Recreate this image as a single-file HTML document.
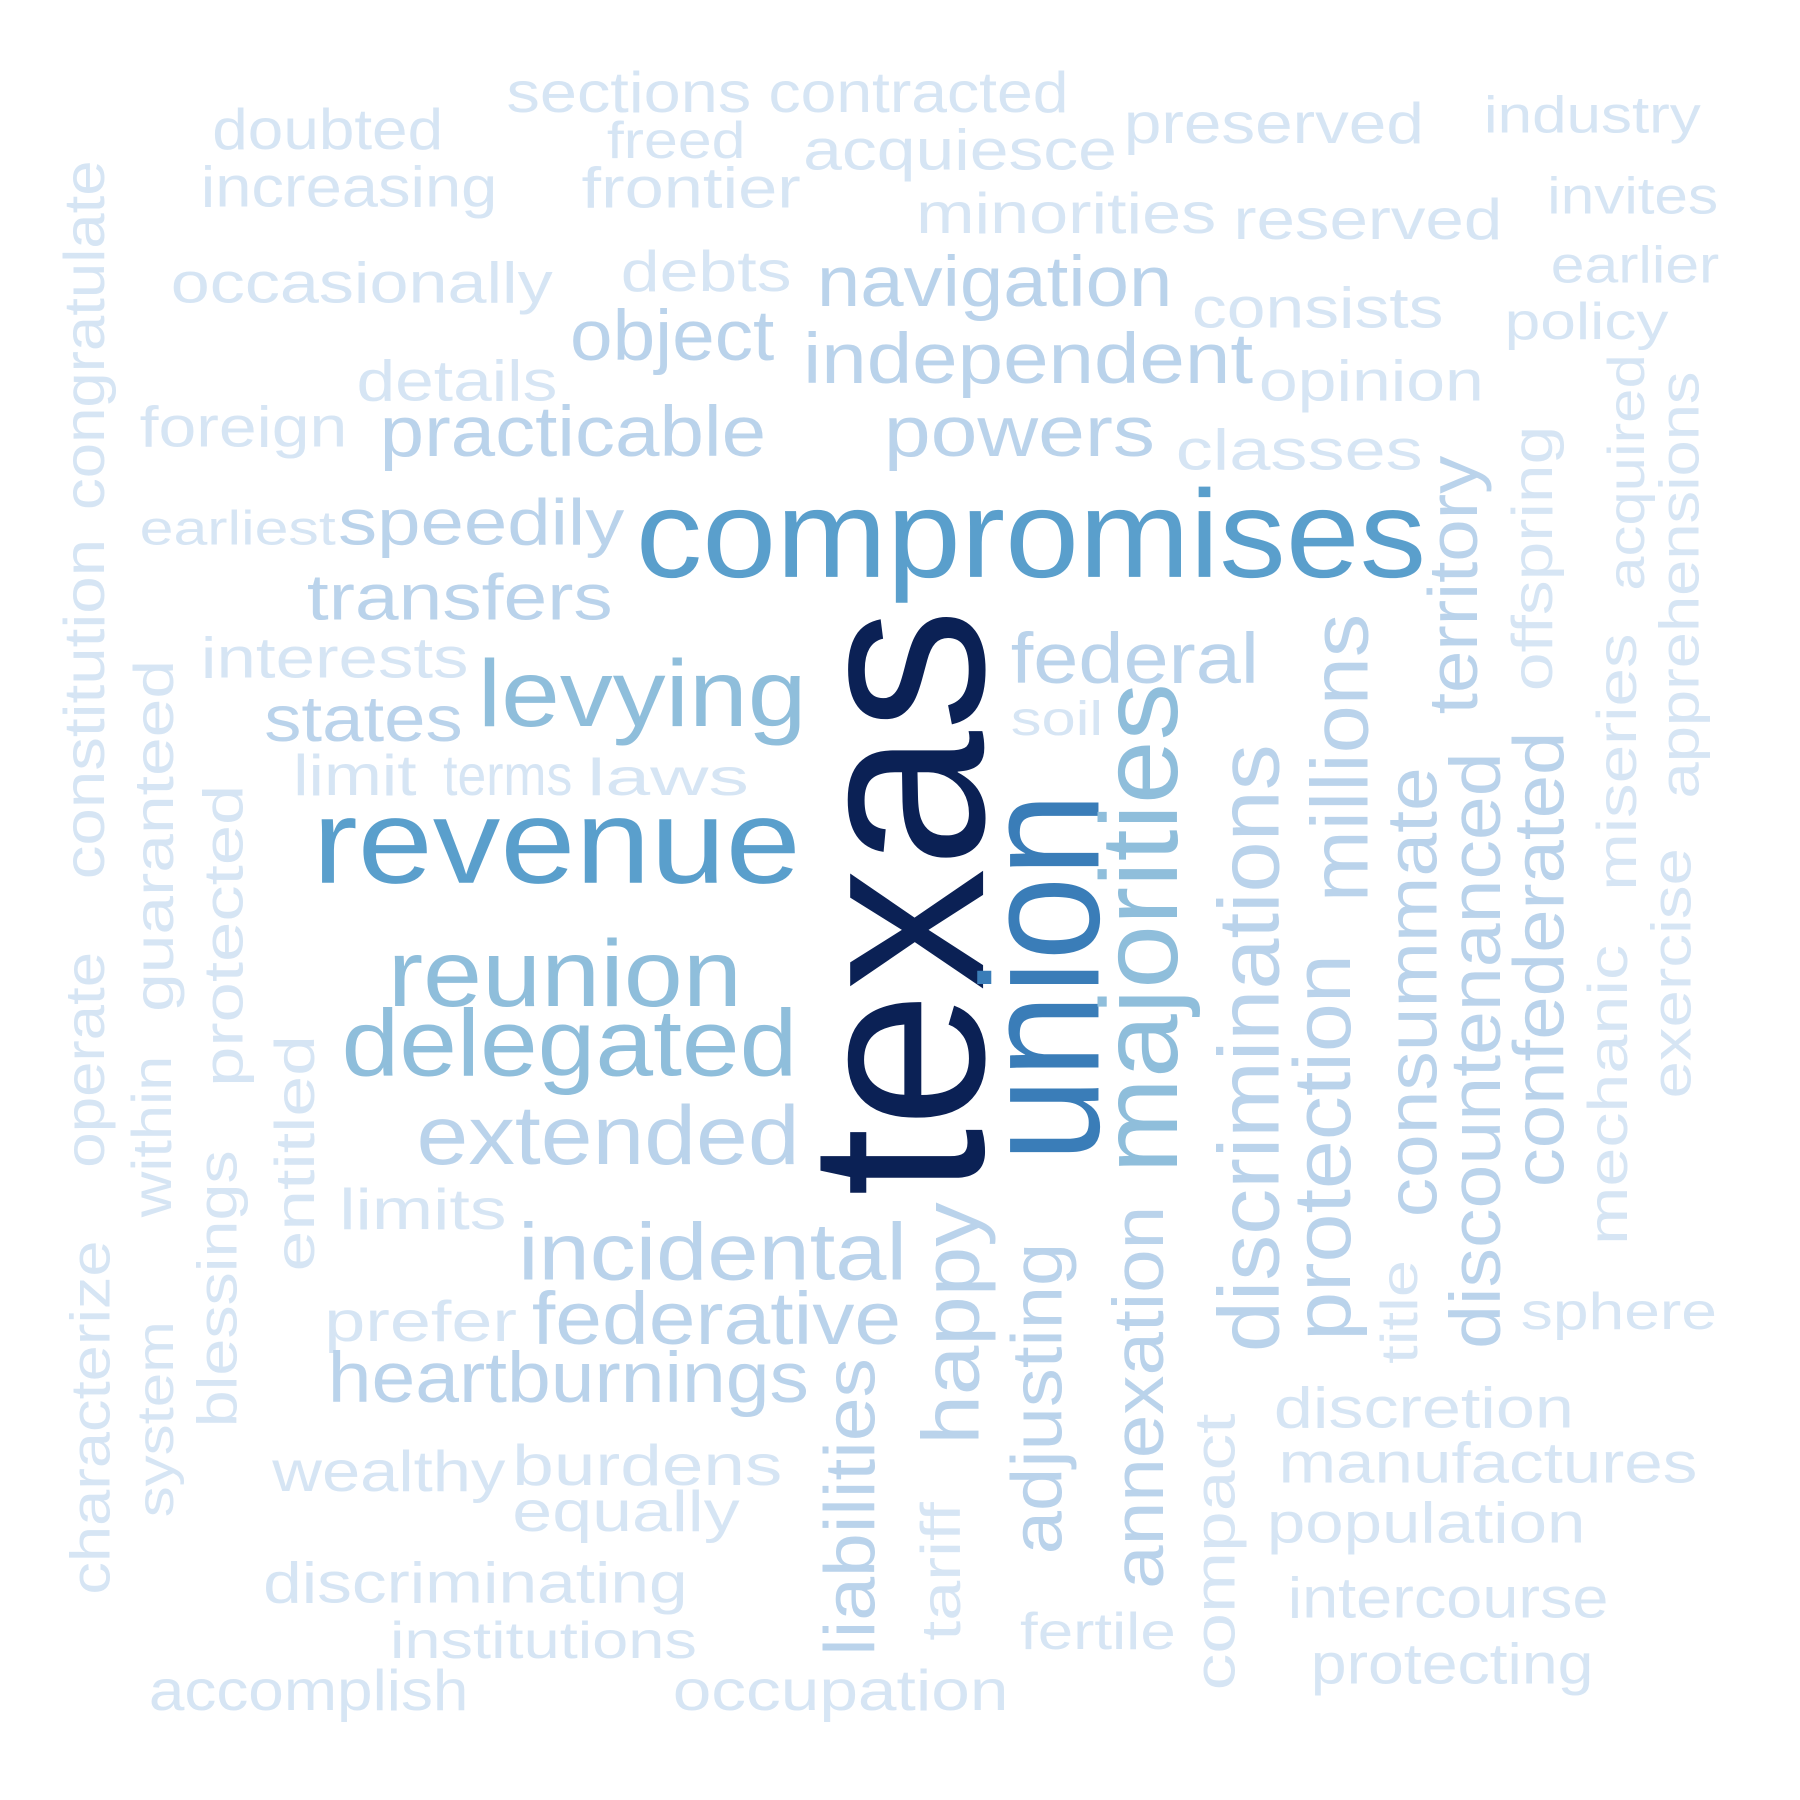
<!DOCTYPE html>
<html><head><meta charset="utf-8"><style>
html,body{margin:0;padding:0;background:#fff;}
svg{display:block;}
text{font-family:"Liberation Sans",Arial,sans-serif;}
</style></head><body>
<svg id="cloud" width="1800" height="1800" viewBox="0 0 1560 1560" xmlns="http://www.w3.org/2000/svg">
<rect width="1560" height="1560" fill="#fff"/>
<g id="words" transform="translate(-4,-3)"></g>
</svg>
<script>
const words = ["sections","contracted","doubted","freed","acquiesce","preserved","industry","increasing","frontier","minorities","reserved","invites","occasionally","debts","earlier","consists","policy","details","opinion","foreign","classes","earliest","interests","soil","limit","terms","laws","limits","prefer","sphere","discretion","wealthy","burdens","manufactures","equally","population","discriminating","intercourse","fertile","institutions","protecting","accomplish","occupation",
"navigation","object","independent","practicable","powers","speedily","transfers","federal","states","extended","incidental","federative","heartburnings",
"levying","reunion","delegated","compromises","revenue",
"texas","union","majorities","discriminations","millions","protection","consummate","territory","discountenanced","confederated","offspring","acquired","apprehensions","miseries","exercise","mechanic","title","happy","adjusting","annexation","liabilities","tariff","compact","constitution","congratulate","operate","guaranteed","within","protected","entitled","blessings","characterize","system"];
const weights = [1,1,1,1,1,1,1,1,1,1,1,1,1,1,1,1,1,1,1,1,1,1,1,1,1,1,1,1,1,1,1,1,1,1,1,1,1,1,1,1,1,1,1,
2,2,2,2,2,2,2,2,2,2,2,2,2,
3,3,3,4,4,
6,5,3,2,2,2,2,2,2,2,1,1,1,1,1,1,1,2,2,2,2,1,1,1,1,1,1,1,1,1,1,1,1];
const layout = [
[443,100,50,212,0],[670,100,50,260,0],[188,132,50,200,0],[530,140,45,120,0],[700,150,50,272,0],[978,127,50,260,0],[1290,118,45,188,0],[178,182,50,257,0],[508,183,50,190,0],[798,205,50,260,0],[1073,210,50,233,0],[1345,188,45,148,0],[152,265,50,331,0],[542,255,50,148,0],[1348,248,45,146,0],[1037,287,50,218,0],[1308,297,45,142,0],[313,350,50,174,0],[1095,350,50,195,0],[125,390,50,180,0],[1023,410,50,214,0],[125,475,42,170,0],[178,590,50,232,0],[880,640,42,80,0],[258,692,50,107,0],[388,692,50,112,0],[513,692,45,140,0],[298,1068,50,145,0],[285,1165,50,167,0],[1322,1155,45,170,0],[1108,1240,50,260,0],[240,1295,50,202,0],[448,1290,50,234,0],[1112,1288,50,363,0],[448,1330,50,197,0],[1102,1340,50,276,0],[232,1392,50,368,0],[1120,1405,50,278,0],[888,1432,45,135,0],[342,1440,45,266,0],[1140,1462,50,245,0],[133,1485,50,277,0],[587,1485,50,291,0],
[712,268,62,308,0],[498,315,62,177,0],[700,335,62,390,0],[333,398,62,335,0],[770,398,62,235,0],[297,475,56,248,0],[270,540,56,265,0],[880,595,62,215,0],[233,645,56,172,0],[365,1012,72,332,0],[453,1112,70,337,0],[465,1168,64,320,0],[288,1218,62,417,0],
[418,632,82,285,0],[340,875,82,307,0],[300,935,82,395,0],[555,503,108,685,0],[275,768,104,423,0],
[862,1040,218,510,1],[962,1010,145,320,1],[1030,1020,95,425,1],[1118,1175,75,527,1],[1195,785,70,250,1],[1180,1165,70,335,1],[1255,1058,62,390,1],[1290,622,60,224,1],[1310,1172,62,517,1],[1365,1032,62,395,1],[1355,602,50,230,1],[1435,515,45,205,1],[1482,695,48,370,1],[1428,775,48,223,1],[1475,955,48,217,1],[1420,1082,48,260,1],[1238,1185,45,90,1],[858,1255,70,210,1],[930,1350,62,270,1],[1018,1380,62,332,1],[768,1438,62,258,1],[842,1425,48,120,1],[1080,1468,50,240,1],[100,765,50,295,1],[100,445,50,303,1],[100,1015,48,187,1],[160,880,48,305,1],[158,1058,48,140,1],[220,945,48,262,1],[282,1105,48,205,1],[215,1240,48,240,1],[105,1385,48,307,1],[160,1318,45,170,1]
];
const palette = {1:"#d6e5f4",2:"#bad3eb",3:"#8fbedb",4:"#5a9fcc",5:"#3a7db8",6:"#0b2155"};
const g = document.getElementById('words');
const NS = "http://www.w3.org/2000/svg";
words.forEach((w,i)=>{
  const [x,y,fs,len,vert] = layout[i];
  const t = document.createElementNS(NS,'text');
  t.textContent = w;
  t.setAttribute('x',0);
  t.setAttribute('y',0);
  t.setAttribute('font-size',fs);
  t.setAttribute('fill',palette[weights[i]]);
  t.setAttribute('textLength',len);
  t.setAttribute('lengthAdjust','spacingAndGlyphs');
  t.setAttribute('transform', vert ? `translate(${x-6},${y}) rotate(-90)` : `translate(${x},${y})`);
  
  
  g.appendChild(t);
});
</script>
</body></html>
